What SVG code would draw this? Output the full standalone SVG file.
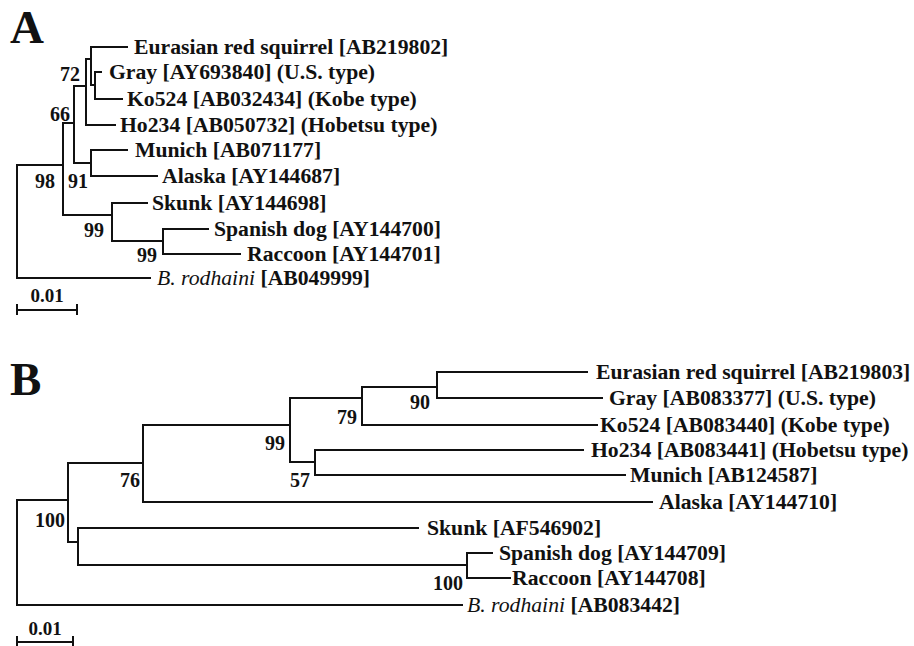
<svg xmlns="http://www.w3.org/2000/svg" width="914" height="646" viewBox="0 0 914 646">
<style>
text{font-family:"Liberation Serif","Times New Roman",serif;font-weight:bold;fill:#111;}
.lf{font-size:21.7px;}
.bs{font-size:20px;text-anchor:end;}
.pl{font-size:47px;}
.it{font-style:italic;font-weight:normal;}
.br{fill:none;stroke:#111;stroke-width:2;stroke-linecap:square;}
</style>
<rect width="914" height="646" fill="#fff"/>
<text class="pl" x="10" y="43">A</text>
<text class="pl" x="10" y="395">B</text>
<g id="connectors-A" class="br">
<path d="M17,165V278M17,165H63M17,278H150"/>
<path d="M63,123V215M63,215H112"/>
<path d="M112,203V241M112,203H147M112,241H163"/>
<path d="M163,229V254M163,229H208M163,254H240"/>
<path d="M63,123H74M74,86V163"/>
<path d="M74,163H91M91,150V176M91,150H127M91,176H157"/>
<path d="M74,86H86M86,59V125M86,125H115"/>
<path d="M86,59H91M91,47V85M91,47H127"/>
<path d="M91,85H95M95,72V99M95,72H101M95,99H122"/>
<path d="M17,310H77M17,305V314M77,305V314"/>
</g>
<g id="connectors-B" class="br">
<path d="M17,500V605M17,500H68M17,605H462"/>
<path d="M68,463V542M68,463H143M68,542H78"/>
<path d="M78,528V565M78,528H418M78,565H467"/>
<path d="M467,553V578M467,553H492M467,578H510"/>
<path d="M143,425V502M143,502H652M143,425H290"/>
<path d="M290,398V462M290,398H362M290,462H315"/>
<path d="M315,450V475M315,450H583M315,475H625"/>
<path d="M362,387V425M362,425H597M362,387H437"/>
<path d="M437,372V398M437,372H587M437,398H602"/>
<path d="M17,642H73M17,637V645M73,637V645"/>
</g>
<g id="A-leaves" class="lf">
<g id="A-eurasian"><text x="134" y="54">Eurasian red squirrel [AB219802]</text></g>
<g id="A-gray"><text x="109" y="79">Gray [AY693840] (U.S. type)</text></g>
<g id="A-ko524"><text x="127" y="106">Ko524 [AB032434] (Kobe type)</text></g>
<g id="A-ho234"><text x="120" y="132">Ho234 [AB050732] (Hobetsu type)</text></g>
<g id="A-munich"><text x="135" y="157">Munich [AB071177]</text></g>
<g id="A-alaska"><text x="162" y="183">Alaska [AY144687]</text></g>
<g id="A-skunk"><text x="152" y="210">Skunk [AY144698]</text></g>
<g id="A-spanish"><text x="214" y="236">Spanish dog [AY144700]</text></g>
<g id="A-raccoon"><text x="247" y="261">Raccoon [AY144701]</text></g>
<g id="A-rodhaini"><text x="157" y="285"><tspan class="it">B. rodhaini</tspan> [AB049999]</text></g>
</g>
<g id="A-support" class="bs">
<g id="A-n72"><text x="80" y="81">72</text></g>
<g id="A-n66"><text x="70" y="121">66</text></g>
<g id="A-n98"><text x="55" y="188">98</text></g>
<g id="A-n91"><text x="88" y="188">91</text></g>
<g id="A-n99a"><text x="104" y="237" font-weight="normal">99</text></g>
<g id="A-n99b"><text x="157" y="262" font-weight="normal">99</text></g>
</g>
<g id="A-scale"><text x="47" y="302" font-size="19" text-anchor="middle">0.01</text></g>
<g id="B-leaves" class="lf">
<g id="B-eurasian"><text x="596" y="379">Eurasian red squirrel [AB219803]</text></g>
<g id="B-gray"><text x="609" y="405">Gray [AB083377] (U.S. type)</text></g>
<g id="B-ko524"><text x="600" y="432">Ko524 [AB083440] (Kobe type)</text></g>
<g id="B-ho234"><text x="591" y="457">Ho234 [AB083441] (Hobetsu type)</text></g>
<g id="B-munich"><text x="630" y="482">Munich [AB124587]</text></g>
<g id="B-alaska"><text x="659" y="509">Alaska [AY144710]</text></g>
<g id="B-skunk"><text x="427" y="535">Skunk [AF546902]</text></g>
<g id="B-spanish"><text x="499" y="560">Spanish dog [AY144709]</text></g>
<g id="B-raccoon"><text x="512" y="585">Raccoon [AY144708]</text></g>
<g id="B-rodhaini"><text x="467" y="612"><tspan class="it">B. rodhaini</tspan> [AB083442]</text></g>
</g>
<g id="B-support" class="bs">
<g id="B-n90"><text x="430" y="409">90</text></g>
<g id="B-n79"><text x="357" y="424">79</text></g>
<g id="B-n99"><text x="285" y="450">99</text></g>
<g id="B-n57"><text x="310" y="487">57</text></g>
<g id="B-n76"><text x="140" y="487">76</text></g>
<g id="B-n100a"><text x="65" y="527">100</text></g>
<g id="B-n100b"><text x="463" y="590" font-weight="normal">100</text></g>
</g>
<g id="B-scale"><text x="45" y="635" font-size="19" text-anchor="middle">0.01</text></g>
</svg>
